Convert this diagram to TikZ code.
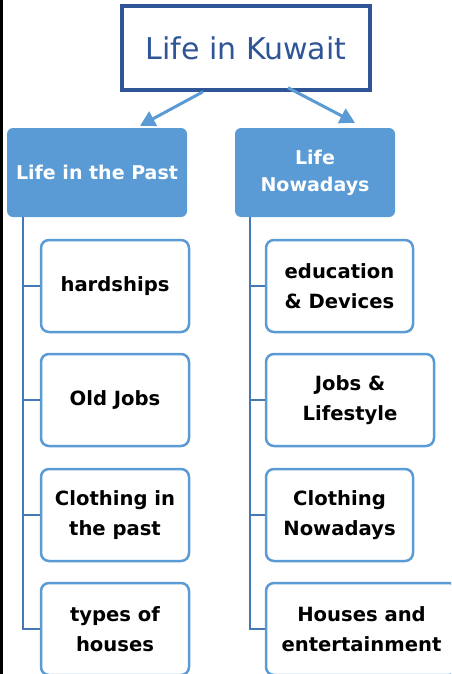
\documentclass[tikz,border=0pt]{standalone}
\usepackage{fontspec}
\setmainfont{DejaVu Sans}
\usetikzlibrary{arrows.meta,calc}
\definecolor{titleblue}{RGB}{47,85,151}
\definecolor{lightblue}{RGB}{91,155,213}
\definecolor{spineblue}{RGB}{70,120,180}
\tikzset{
  titlebox/.style={draw=titleblue, line width=3.5pt, fill=white, minimum width=248pt, minimum height=84pt, text=titleblue, font=\fontsize{30}{36}\selectfont},
  header/.style={fill=lightblue, rounded corners=6pt, minimum height=89pt, text=white, align=center, font=\bfseries\fontsize{19}{27}\selectfont},
  item/.style={draw=lightblue, line width=2.5pt, fill=white, rounded corners=8pt, minimum height=92pt, align=center, font=\bfseries\fontsize{19.6}{30}\selectfont},
  arr/.style={draw=lightblue, line width=3pt, -{Triangle[length=15pt,width=16pt]}},
  spine/.style={draw=spineblue, line width=2.5pt}
}
\begin{document}
\begin{tikzpicture}[x=1pt,y=-1pt]
\useasboundingbox (0,0) rectangle (451,674);
\clip (0,0) rectangle (451,674);
\fill[black] (0,0) rectangle (2.5,674);
\node[titlebox] (title) at (246,48) {Life in Kuwait};
\node[header, minimum width=180pt] (lpast) at (97,172.5) {Life in the Past};
\node[header, minimum width=160pt] (rnow) at (315,172.5) {Life\\Nowadays};
\draw[arr] ($(title.south)+(-43,0)$) -- ($(lpast.north)+(43,-2)$);
\draw[arr] ($(title.south)+(42,-4)$) -- ($(rnow.north)+(40,-5)$);
% left items
\node[item, minimum width=148pt] (l1) at (115,286) {hardships};
\node[item, minimum width=148pt] (l2) at (115,400) {Old Jobs};
\node[item, minimum width=148pt] (l3) at (115,515) {Clothing in\\the past};
\node[item, minimum width=148pt] (l4) at (115,629) {types of\\houses};
% right items
\node[item, minimum width=147pt] (r1) at (339.5,286) {education\\\& Devices};
\node[item, minimum width=168pt] (r2) at (350,400) {Jobs \&\\Lifestyle};
\node[item, minimum width=147pt] (r3) at (339.5,515) {Clothing\\Nowadays};
\node[item, minimum width=191pt] (r4) at (361.5,629) {Houses and\\entertainment};
% spines
\coordinate (lsp) at (23,217);
\coordinate (rsp) at (250,217);
\draw[spine] (lsp) |- (l4.west);
\foreach \b in {l1,l2,l3} \draw[spine] (\b.west) -- (\b.west -| lsp);
\draw[spine] (rsp) |- (r4.west);
\foreach \b in {r1,r2,r3} \draw[spine] (\b.west) -- (\b.west -| rsp);
\end{tikzpicture}
\end{document}
